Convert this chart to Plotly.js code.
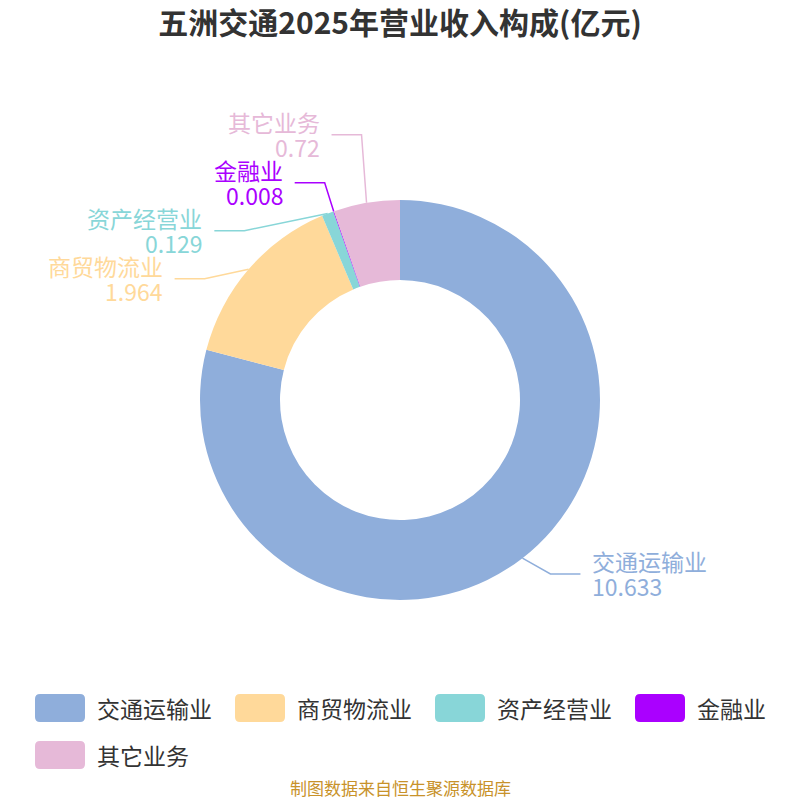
<!DOCTYPE html>
<html>
<head>
<meta charset="utf-8">
<script src="https://cdn.plot.ly/plotly-3.0.1.min.js"></script>
<style>
  html, body { margin: 0; padding: 0; background: #fff; }
  #chart { width: 800px; height: 800px; }
</style>
</head>
<body>
<div id="chart"></div>
<script>
// 数据
const categories = ["交通运输业", "商贸物流业", "资产经营业", "金融业", "其它业务"];
const values = [10.633, 1.964, 0.129, 0.008, 0.72];
const valueLabels = ["10.633", "1.964", "0.129", "0.008", "0.72"];
const sliceColors = ["#8FAEDB", "#FFD99A", "#88D6D8", "#AA00FF", "#E6B9D8"];

const W = 800, H = 800;
const CX = 400, CY = 400, R = 200;
const FONT = "'Noto Sans CJK SC', 'Noto Sans', sans-serif";

const px = (x) => x / W;
const py = (y) => 1 - y / H;

// 外部标签：由数据算出扇区中点，再做简单的防重叠
function layoutLabels() {
  const total = values.reduce((a, b) => a + b, 0);
  let acc = 0;
  const items = categories.map((name, i) => {
    const frac = values[i] / total;
    const mid = (acc + frac / 2) * 2 * Math.PI;
    acc += frac;
    const sx = Math.sin(mid), sy = -Math.cos(mid);
    return {
      i, side: sx >= 0 ? 1 : -1,
      ex: CX + R * sx, ey: CY + R * sy,
      y: CY + (R + 20) * sy,
    };
  });

  const LABEL_H = 48;
  [1, -1].forEach((side) => {
    const list = items.filter((d) => d.side === side).sort((a, b) => a.y - b.y);
    if (list.length < 2) return;
    let last = -Infinity, shifts = 0;
    list.forEach((d) => {
      if (d.y < last + LABEL_H) {
        shifts += last + LABEL_H - d.y;
        d.y = last + LABEL_H;
      }
      last = d.y;
    });
    list.forEach((d) => (d.y -= shifts / list.length));
  });

  const RX = R + 30;
  items.forEach((d) => {
    const dy = d.y - CY;
    let bx = CX + d.side * Math.sqrt(Math.max(0, RX * RX - dy * dy));
    bx = d.side > 0 ? Math.max(bx, d.ex + 5) : Math.min(bx, d.ex - 5);
    d.bx = bx;
    d.hx = bx + d.side * 30;
    d.tx = d.hx + d.side * 10;
  });
  return items;
}

const labels = layoutLabels();
const shapes = [];
const annotations = [];

labels.forEach((d) => {
  const c = sliceColors[d.i];
  shapes.push({
    type: "path", xref: "paper", yref: "paper",
    path: `M${px(d.ex)},${py(d.ey)} L${px(d.bx)},${py(d.y)} L${px(d.hx)},${py(d.y)}`,
    line: { color: c, width: 1.5 },
  });
  const anchor = d.side > 0 ? "left" : "right";
  annotations.push({
    xref: "paper", yref: "paper", x: px(d.tx), y: py(d.y - 12.5),
    xanchor: anchor, yanchor: "middle", showarrow: false,
    text: categories[d.i], font: { family: FONT, size: 23, color: c },
  });
  annotations.push({
    xref: "paper", yref: "paper", x: px(d.tx), y: py(d.y + 12.5),
    xanchor: anchor, yanchor: "middle", showarrow: false,
    text: valueLabels[d.i], font: { family: FONT, size: 23, color: c },
  });
});

// 图例（圆角色块）
const ctx = document.createElement("canvas").getContext("2d");
ctx.font = "23px " + FONT;
let lx = 35, ly = 708;
categories.forEach((name, i) => {
  const tw = ctx.measureText(name).width;
  const itemW = 50 + 10 + tw;
  if (lx + itemW > W - 20) { lx = 35; ly += 47; }
  const x0 = lx, x1 = lx + 50, y0 = ly - 14, y1 = ly + 14, r = 5;
  shapes.push({
    type: "path", xref: "paper", yref: "paper",
    path: `M${px(x0 + r)},${py(y0)} L${px(x1 - r)},${py(y0)} Q${px(x1)},${py(y0)} ${px(x1)},${py(y0 + r)} ` +
      `L${px(x1)},${py(y1 - r)} Q${px(x1)},${py(y1)} ${px(x1 - r)},${py(y1)} ` +
      `L${px(x0 + r)},${py(y1)} Q${px(x0)},${py(y1)} ${px(x0)},${py(y1 - r)} ` +
      `L${px(x0)},${py(y0 + r)} Q${px(x0)},${py(y0)} ${px(x0 + r)},${py(y0)} Z`,
    fillcolor: sliceColors[i], line: { width: 0 },
  });
  annotations.push({
    xref: "paper", yref: "paper", x: px(lx + 60), y: py(ly),
    xanchor: "left", yanchor: "middle", showarrow: false,
    text: name, font: { family: FONT, size: 23, color: "#333333" },
  });
  lx += itemW + 25;
});

annotations.push({
  xref: "paper", yref: "paper", x: 0.5, y: py(787),
  xanchor: "center", yanchor: "middle", showarrow: false,
  text: "制图数据来自恒生聚源数据库",
  font: { family: FONT, size: 17, color: "#C8922A" },
});

const data = [
  {
    type: "pie",
    labels: categories,
    values: values,
    hole: 0.6,
    sort: false,
    direction: "clockwise",
    rotation: 0,
    textinfo: "none",
    hoverinfo: "none",
    marker: { colors: sliceColors, line: { width: 0 } },
    domain: { x: [0.25, 0.75], y: [0.25, 0.75] },
    showlegend: false,
  },
];

const layout = {
  width: W,
  height: H,
  margin: { l: 0, r: 0, t: 0, b: 0 },
  paper_bgcolor: "#ffffff",
  showlegend: false,
  title: {
    text: "五洲交通2025年营业收入构成(亿元)",
    x: 0.5,
    xanchor: "center",
    y: py(23),
    yanchor: "middle",
    font: { family: FONT, size: 30, color: "#333333", weight: "bold" },
  },
  shapes: shapes,
  annotations: annotations,
};

Plotly.newPlot("chart", data, layout, { displayModeBar: false, staticPlot: true });
</script>
</body>
</html>
